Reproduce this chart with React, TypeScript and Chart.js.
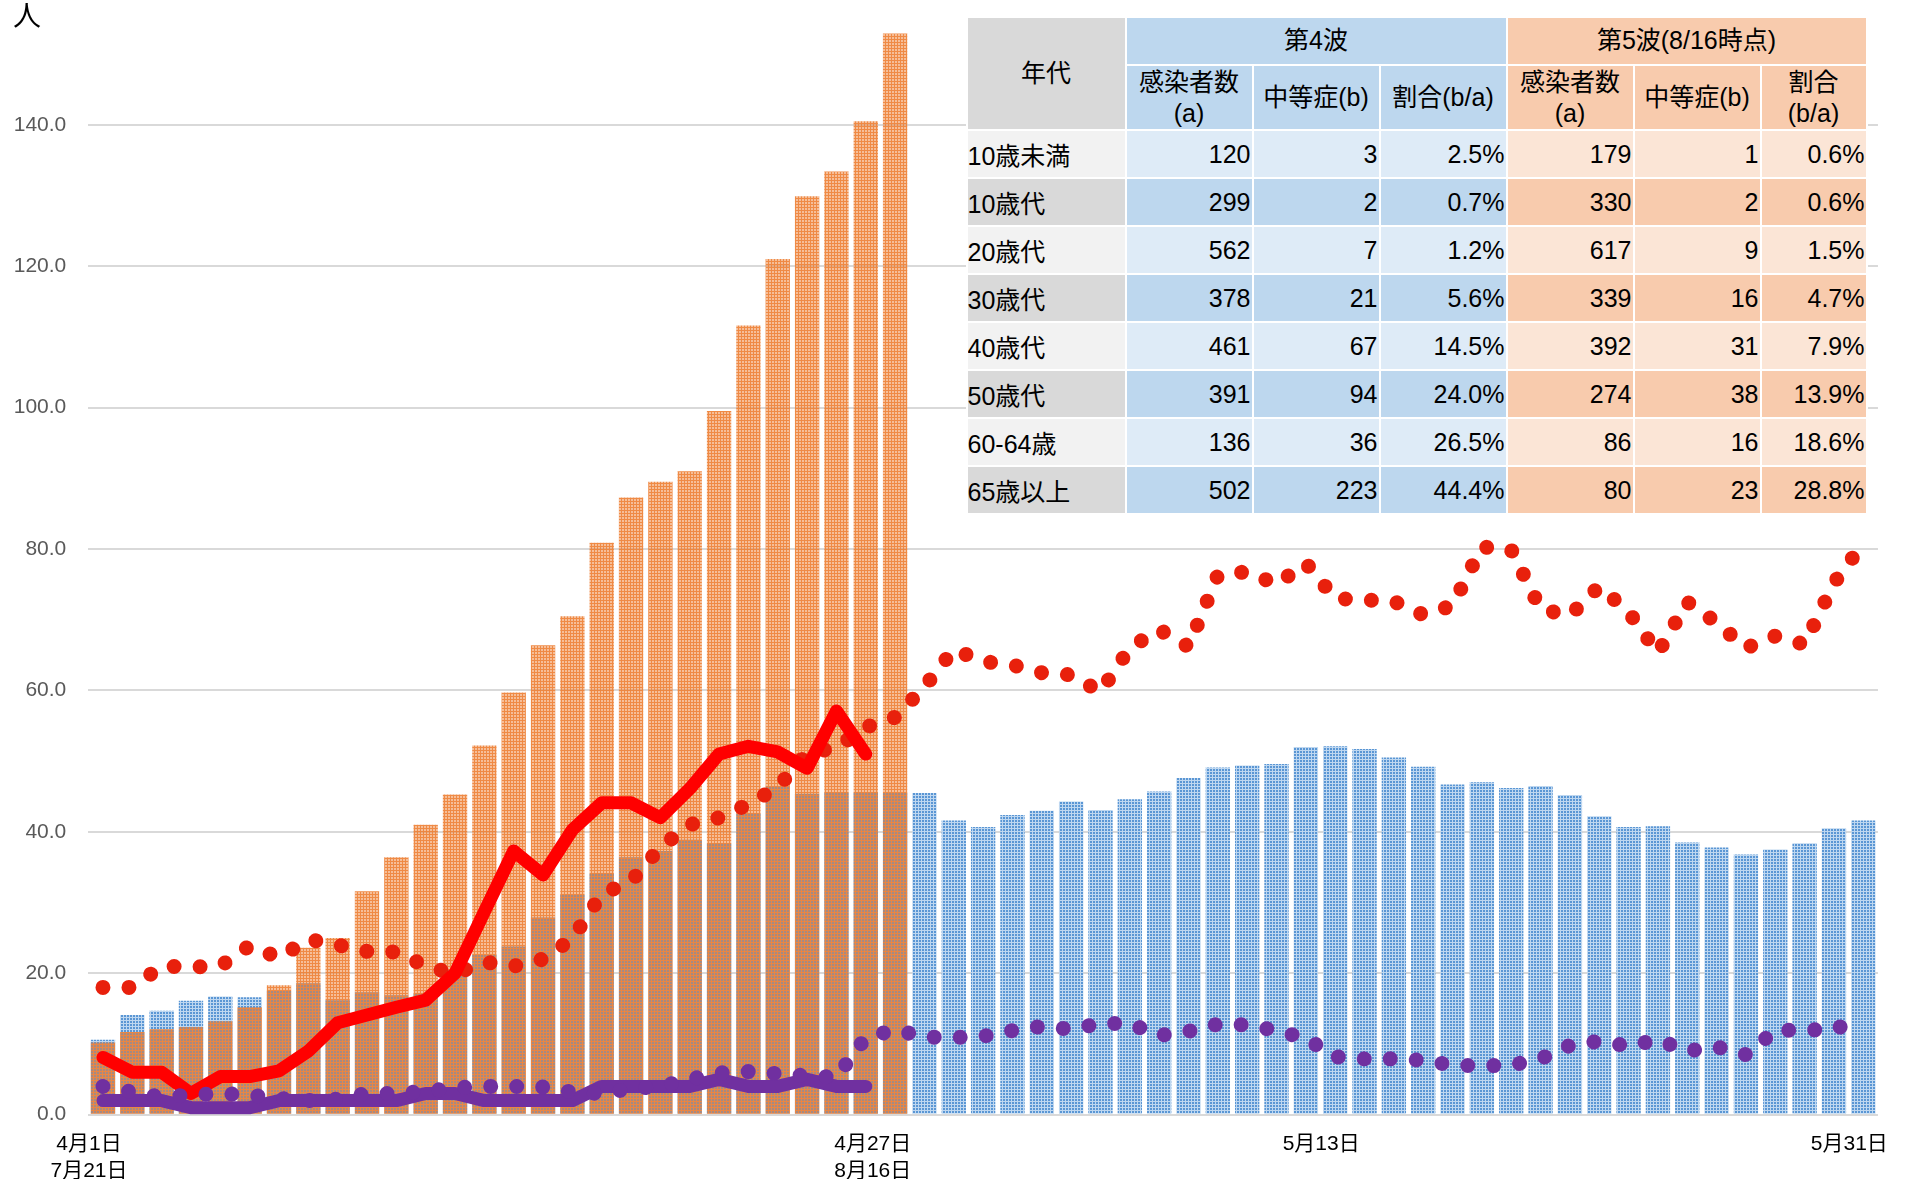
import React, { useEffect, useRef } from "react";
import { Chart, registerables } from "chart.js";

Chart.register(...registerables);

const FONT = '"Liberation Sans", "Noto Sans CJK JP", sans-serif';

// 61 days: 4月1日 .. 5月31日 (4th wave); 5th wave 7月21日.. aligned from index 0
const categories = [
  "4月1日", "4月2日", "4月3日", "4月4日", "4月5日", "4月6日", "4月7日", "4月8日", "4月9日", "4月10日",
  "4月11日", "4月12日", "4月13日", "4月14日", "4月15日", "4月16日", "4月17日", "4月18日", "4月19日", "4月20日",
  "4月21日", "4月22日", "4月23日", "4月24日", "4月25日", "4月26日", "4月27日", "4月28日", "4月29日", "4月30日",
  "5月1日", "5月2日", "5月3日", "5月4日", "5月5日", "5月6日", "5月7日", "5月8日", "5月9日", "5月10日",
  "5月11日", "5月12日", "5月13日", "5月14日", "5月15日", "5月16日", "5月17日", "5月18日", "5月19日", "5月20日",
  "5月21日", "5月22日", "5月23日", "5月24日", "5月25日", "5月26日", "5月27日", "5月28日", "5月29日", "5月30日",
  "5月31日",
];

// blue bars (4th wave)
const wave4Cases = [
  10.6, 14.1, 14.7, 16.1, 16.7, 16.6, 17.5, 18.6, 16.2, 17.3,
  16.9, 17.2, 20.5, 22.6, 23.8, 27.9, 31.1, 34.1, 36.4, 37.3,
  38.9, 38.4, 42.6, 46.5, 45.4, 45.6, 45.6, 45.5, 45.5, 41.6,
  40.7, 42.4, 43.0, 44.3, 43.1, 44.6, 45.7, 47.6, 49.1, 49.4,
  49.6, 52.0, 52.1, 51.7, 50.5, 49.2, 46.7, 47.0, 46.2, 46.5,
  45.2, 42.2, 40.7, 40.8, 38.5, 37.8, 36.8, 37.5, 38.4, 40.5,
  41.6,
];

// orange bars (5th wave)
const wave5Cases = [
  10.2, 11.7, 12.1, 12.4, 13.2, 15.2, 18.3, 23.6, 25.0, 31.6,
  36.4, 41.0, 45.3, 52.2, 59.7, 66.4, 70.5, 80.9, 87.3, 89.5,
  91.0, 99.5, 111.6, 121.0, 129.9, 133.4, 140.5, 152.9,
];

// red dotted line (4th wave)
const wave4Trend = [
  18.0, 18.0, 21.0, 20.9, 21.0, 23.9, 22.2, 24.8, 24.0, 23.1,
  23.0, 21.0, 19.9, 21.6, 21.0, 22.0, 24.9, 31.2, 33.0, 37.8,
  41.0, 42.0, 43.9, 46.3, 51.1, 51.9, 54.8, 56.2, 60.5, 65.8,
  64.1, 63.6, 62.5, 62.2, 59.8, 66.0, 68.6, 66.2, 76.3, 76.8,
  75.0, 78.0, 73.0, 72.8, 72.6, 70.7, 72.0, 80.3, 79.9, 71.5,
  70.6, 74.7, 71.1, 65.3, 72.5, 69.6, 66.0, 67.7, 66.5, 75.2,
  80.8,
];

// red solid line (5th wave)
const wave5Trend = [
  8.1, 6.0, 6.0, 3.0, 5.4, 5.4, 6.2, 9.0, 13.0, 14.1,
  15.2, 16.2, 20.0, 28.7, 37.3, 33.9, 40.3, 44.1, 44.1, 42.0,
  46.1, 51.0, 52.1, 51.3, 49.0, 57.1, 51.0,
];

// purple dotted line (4th wave moderate)
const wave4ModerateLine = [
  4.0, 3.2, 2.5, 2.8, 3.0, 2.8, 2.3, 2.0, 2.2, 3.0,
  3.0, 3.3, 3.8, 4.0, 4.0, 3.9, 3.2, 3.0, 3.7, 4.0,
  5.0, 5.9, 6.1, 5.8, 5.5, 5.3, 10.9, 12.0, 11.0, 10.9,
  11.1, 11.9, 12.5, 12.1, 12.9, 12.9, 11.2, 11.8, 12.8, 12.7,
  11.9, 10.8, 8.2, 7.9, 7.9, 7.7, 7.0, 6.9, 7.0, 7.9,
  9.8, 10.4, 9.7, 10.6, 9.0, 9.6, 8.5, 11.9, 12.0, 12.0,
  13.9,
];

// purple solid line (5th wave moderate)
const wave5ModerateLine = [
  2, 2, 2, 1, 1, 1, 2, 2, 2, 2,
  2, 3, 3, 2, 2, 2, 2, 4, 4, 4,
  4, 5, 4, 4, 5, 4, 4,
];

const tickIndices = [0, 26, 42, 60];
const tickTexts = [["4月1日", "7月21日"], ["\u3000\u30004月27日", "\u3000\u30008月16日"], ["5月13日"], ["5月31日"]];

const yMax = 157.5;
const yStep = 20;

// table data
const ageGroups = ["10歳未満", "10歳代", "20歳代", "30歳代", "40歳代", "50歳代", "60-64歳", "65歳以上"];
const w4Infected = [120, 299, 562, 378, 461, 391, 136, 502];
const w4Moderate = [3, 2, 7, 21, 67, 94, 36, 223];
const w4Ratio = ["2.5%", "0.7%", "1.2%", "5.6%", "14.5%", "24.0%", "26.5%", "44.4%"];
const w5Infected = [179, 330, 617, 339, 392, 274, 86, 80];
const w5Moderate = [1, 2, 9, 16, 31, 38, 16, 23];
const w5Ratio = ["0.6%", "0.6%", "1.5%", "4.7%", "7.9%", "13.9%", "18.6%", "28.8%"];

// 3x3 tile: "grid" = row 0 + column 0, "cell" = the 2x2 remainder
function makePattern(grid: string, cellFill: string) {
  const c = document.createElement("canvas");
  c.width = 3;
  c.height = 3;
  const ctx = c.getContext("2d")!;
  ctx.fillStyle = cellFill;
  ctx.fillRect(1, 1, 2, 2);
  ctx.fillStyle = grid;
  ctx.fillRect(0, 0, 3, 1);
  ctx.fillRect(0, 1, 1, 2);
  return ctx.createPattern(c, "repeat")!;
}

const colW = [157, 125, 125, 125, 125, 125, 104];

const GRAY_D = "#d9d9d9";
const GRAY_L = "#f2f2f2";
const BLUE_D = "#bdd7ee";
const BLUE_L = "#deebf7";
const OR_D = "#f8cbad";
const OR_L = "#fbe5d6";

function DataTable() {
  const cell: React.CSSProperties = {
    padding: 0,
    verticalAlign: "middle",
    whiteSpace: "nowrap",
    overflow: "hidden",
  };
  const head: React.CSSProperties = { ...cell, textAlign: "center", lineHeight: "31px" };
  return (
    <table
      style={{
        position: "absolute",
        left: 965.5,
        top: 15.5,
        borderCollapse: "separate",
        borderSpacing: "2.4px",
        background: "#ffffff",
        tableLayout: "fixed",
        fontFamily: FONT,
        fontSize: 25,
        color: "#000",
      }}
    >
      <colgroup>
        {colW.map((w, i) => (
          <col key={i} style={{ width: w }} />
        ))}
      </colgroup>
      <tbody>
        <tr style={{ height: 46.5 }}>
          <td rowSpan={2} style={{ ...head, background: GRAY_D }}>年代</td>
          <td colSpan={3} style={{ ...head, background: BLUE_D }}>第4波</td>
          <td colSpan={3} style={{ ...head, background: OR_D }}>第5波(8/16時点)</td>
        </tr>
        <tr style={{ height: 63 }}>
          <td style={{ ...head, background: BLUE_D }}>感染者数<br />(a)</td>
          <td style={{ ...head, background: BLUE_D }}>中等症(b)</td>
          <td style={{ ...head, background: BLUE_D }}>割合(b/a)</td>
          <td style={{ ...head, background: OR_D }}>感染者数<br />(a)</td>
          <td style={{ ...head, background: OR_D }}>中等症(b)</td>
          <td style={{ ...head, background: OR_D }}>割合<br />(b/a)</td>
        </tr>
        {ageGroups.map((g, i) => {
          const dark = i % 2 === 1;
          const num: React.CSSProperties = { ...cell, textAlign: "right", paddingRight: 1 };
          return (
            <tr key={g} style={{ height: 46 }}>
              <td style={{ ...cell, textAlign: "left", background: dark ? GRAY_D : GRAY_L }}>{g}</td>
              <td style={{ ...num, background: dark ? BLUE_D : BLUE_L }}>{w4Infected[i]}</td>
              <td style={{ ...num, background: dark ? BLUE_D : BLUE_L }}>{w4Moderate[i]}</td>
              <td style={{ ...num, background: dark ? BLUE_D : BLUE_L }}>{w4Ratio[i]}</td>
              <td style={{ ...num, background: dark ? OR_D : OR_L }}>{w5Infected[i]}</td>
              <td style={{ ...num, background: dark ? OR_D : OR_L }}>{w5Moderate[i]}</td>
              <td style={{ ...num, background: dark ? OR_D : OR_L }}>{w5Ratio[i]}</td>
            </tr>
          );
        })}
      </tbody>
    </table>
  );
}

export default function App() {
  const canvasRef = useRef<HTMLCanvasElement | null>(null);

  useEffect(() => {
    document.body.style.margin = "0";
    const canvas = canvasRef.current;
    if (!canvas) return;
    // blue: light grid lines, darker cells
    const bluePattern = makePattern("rgb(190,215,240)", "rgb(90,150,212)");
    // orange: near-opaque grid lines, semi-transparent cells (show blue beneath)
    const orangePattern = makePattern("rgba(237,125,49,0.9)", "rgba(237,125,49,0.5)");

    const chart = new Chart(canvas, {
      type: "bar",
      data: {
        labels: categories,
        datasets: [
          {
            type: "line",
            label: "第4波 中等症",
            data: wave4ModerateLine,
            borderColor: "#7030a0",
            backgroundColor: "#7030a0",
            borderWidth: 15,
            borderDash: [0.001, 26],
            borderCapStyle: "round",
            pointRadius: 0,
            tension: 0,
            fill: false,
            order: 1,
          } as any,
          {
            type: "line",
            label: "第5波 中等症",
            data: wave5ModerateLine,
            borderColor: "#7030a0",
            backgroundColor: "#7030a0",
            borderWidth: 13,
            borderCapStyle: "round",
            borderJoinStyle: "round",
            pointRadius: 0,
            tension: 0,
            fill: false,
            order: 2,
          } as any,
          {
            type: "line",
            label: "第5波",
            data: wave5Trend,
            borderColor: "#ff0000",
            backgroundColor: "#ff0000",
            borderWidth: 13,
            borderCapStyle: "round",
            borderJoinStyle: "round",
            pointRadius: 0,
            tension: 0,
            fill: false,
            order: 3,
          } as any,
          {
            type: "line",
            label: "第4波",
            data: wave4Trend,
            borderColor: "#e8200c",
            backgroundColor: "#e8200c",
            borderWidth: 15,
            borderDash: [0.001, 26],
            borderCapStyle: "round",
            pointRadius: 0,
            tension: 0,
            fill: false,
            order: 4,
          } as any,
          {
            type: "bar",
            label: "第5波 感染者",
            data: wave5Cases,
            backgroundColor: orangePattern,
            grouped: false,
            barPercentage: 0.83,
            categoryPercentage: 1,
            order: 5,
          } as any,
          {
            type: "bar",
            label: "第4波 感染者",
            data: wave4Cases,
            backgroundColor: bluePattern,
            grouped: false,
            barPercentage: 0.83,
            categoryPercentage: 1,
            order: 6,
          } as any,
        ],
      },
      options: {
        responsive: false,
        animation: false,
        devicePixelRatio: 1,
        layout: { padding: { top: 1, right: 23.6, bottom: 0, left: 0 } },
        plugins: {
          legend: { display: false },
          tooltip: { enabled: false },
          title: { display: false },
        },
        scales: {
          x: {
            grid: { display: false },
            border: { display: false },
            ticks: {
              autoSkip: false,
              maxRotation: 0,
              minRotation: 0,
              labelOffset: -14,
              padding: 8,
              color: "#000000",
              font: { family: FONT, size: 21, lineHeight: 1.3 },
              callback: (_v: any, i: number) => {
                const k = tickIndices.indexOf(i);
                return k >= 0 ? tickTexts[k] : "";
              },
            },
            afterFit: (s: any) => {
              s.height = 64.3;
            },
          },
          y: {
            min: 0,
            max: yMax,
            grid: { color: "#d9d9d9", lineWidth: 2, drawTicks: false },
            border: { display: false },
            ticks: {
              stepSize: yStep,
              includeBounds: false,
              padding: 22,
              color: "#595959",
              font: { family: FONT, size: 21 },
              callback: (v: any) => Number(v).toFixed(1),
            },
            afterFit: (s: any) => {
              s.width = 88.3;
              s.paddingTop = 0;
              s.paddingBottom = 0;
            },
          },
        },
      },
    });
    return () => chart.destroy();
  }, []);

  return (
    <div style={{ position: "absolute", left: 0, top: 0, width: 1910, height: 1179, background: "#fff", overflow: "hidden" }}>
      <canvas ref={canvasRef} width={1910} height={1179} style={{ display: "block", width: 1910, height: 1179 }} />
      <div
        style={{
          position: "absolute",
          left: 13,
          top: 3,
          fontFamily: FONT,
          fontSize: 28,
          lineHeight: "28px",
          color: "#000",
        }}
      >
        人
      </div>
      <DataTable />
    </div>
  );
}
